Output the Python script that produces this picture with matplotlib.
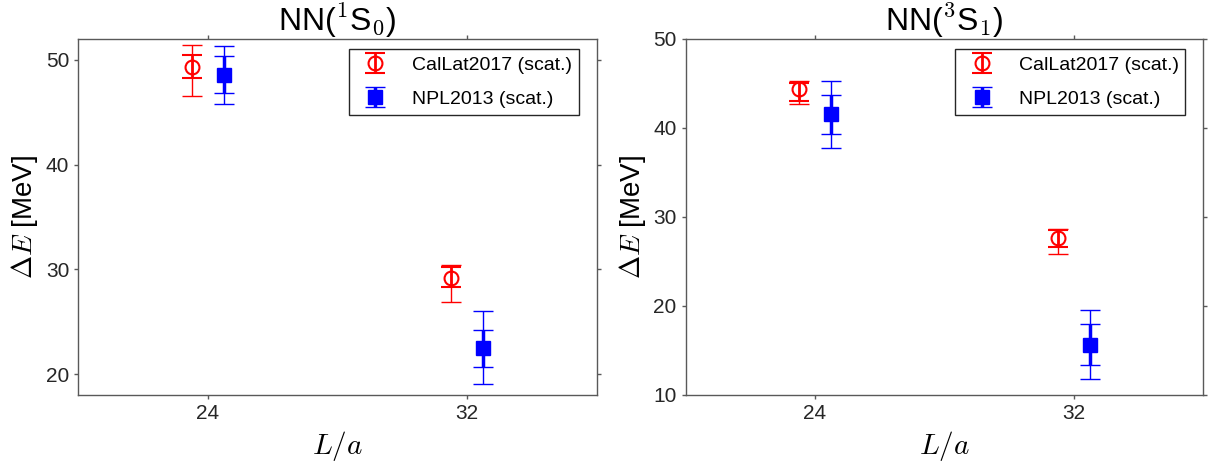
import matplotlib
matplotlib.use('Agg')
import matplotlib.pyplot as plt
import numpy as np

plt.rcParams['font.family'] = ['Liberation Sans', 'DejaVu Sans']
plt.rcParams['mathtext.fontset'] = 'cm'

# lattice sizes
L = np.array([24, 32])

# NN(1S0)
callat_1s0 = np.array([49.35, 29.2])
callat_1s0_stat = np.array([[1.07, 0.90], [1.12, 1.00]])   # [lower, upper]
callat_1s0_tot = np.array([[2.75, 2.34], [2.09, 1.20]])
npl_1s0 = np.array([48.55, 22.5])
npl_1s0_stat = np.array([[1.75, 1.80], [1.80, 1.75]])
npl_1s0_tot = np.array([[2.80, 3.49], [2.82, 3.48]])

# NN(3S1)
callat_3s1 = np.array([44.35, 27.6])
callat_3s1_stat = np.array([[1.28, 0.94], [0.74, 0.94]])
callat_3s1_tot = np.array([[1.69, 1.76], [0.96, 1.05]])
npl_3s1 = np.array([41.55, 15.6])
npl_3s1_stat = np.array([[2.20, 2.28], [2.20, 2.32]])
npl_3s1_tot = np.array([[3.82, 3.86], [3.77, 3.90]])

labels = ['CalLat2017 (scat.)', 'NPL2013 (scat.)']
titles = [r'NN($^1$S$_0$)', r'NN($^3$S$_1$)']

fig = plt.figure(figsize=(12.11, 4.66), dpi=100)
ax1 = fig.add_axes([0.0647, 0.1524, 0.428, 0.764])
ax2 = fig.add_axes([0.5662, 0.1524, 0.4272, 0.764])

panels = [
    (ax1, callat_1s0, callat_1s0_stat, callat_1s0_tot, npl_1s0, npl_1s0_stat, npl_1s0_tot, (18, 52), [20, 30, 40, 50]),
    (ax2, callat_3s1, callat_3s1_stat, callat_3s1_tot, npl_3s1, npl_3s1_stat, npl_3s1_tot, (10, 50), [10, 20, 30, 40, 50]),
]

dx = 0.5
for i, (ax, cy, cs, ct, ny, ns, nt, ylim, yt) in enumerate(panels):
    # total errors (thin), then stat errors (thick) with markers
    ax.errorbar(L - dx, cy, yerr=ct, fmt='none', ecolor='red', elinewidth=1, capsize=7, capthick=1)
    h1 = ax.errorbar(L - dx, cy, yerr=cs, fmt='o', color='red', mfc='none', mec='red', ms=10, mew=1.5,
                     elinewidth=2, capsize=7, capthick=1, label=labels[0])
    ax.errorbar(L + dx, ny, yerr=nt, fmt='none', ecolor='blue', elinewidth=1, capsize=7, capthick=1)
    h2 = ax.errorbar(L + dx, ny, yerr=ns, fmt='s', color='blue', ms=10,
                     elinewidth=2.5, capsize=7, capthick=1, label=labels[1])

    ax.set_xlim(20, 36)
    ax.set_ylim(*ylim)
    ax.set_xticks(L)
    ax.set_yticks(yt)
    ax.tick_params(direction='out', length=3, width=1, colors='0.35', labelcolor='0.15',
                   labelsize=15, top=True, right=True)
    for s in ax.spines.values():
        s.set_color('0.35')
        s.set_linewidth(1)
    ax.set_title(titles[i], fontsize=23, pad=6)
    ax.set_xlabel(r'$L/a$', fontsize=21)
    ax.set_ylabel(r'$\Delta E$ [MeV]', fontsize=20)
    leg = ax.legend(handles=[h1, h2], loc='upper right', bbox_to_anchor=(0.966, 0.971),
                    borderaxespad=0, fontsize=14, fancybox=False, framealpha=1,
                    handlelength=2.0, handletextpad=0.9, labelspacing=0.85, borderpad=0.35)
    leg.get_frame().set_edgecolor('0.15')
    leg.get_frame().set_linewidth(1)

fig.savefig('out.png', dpi=100)
